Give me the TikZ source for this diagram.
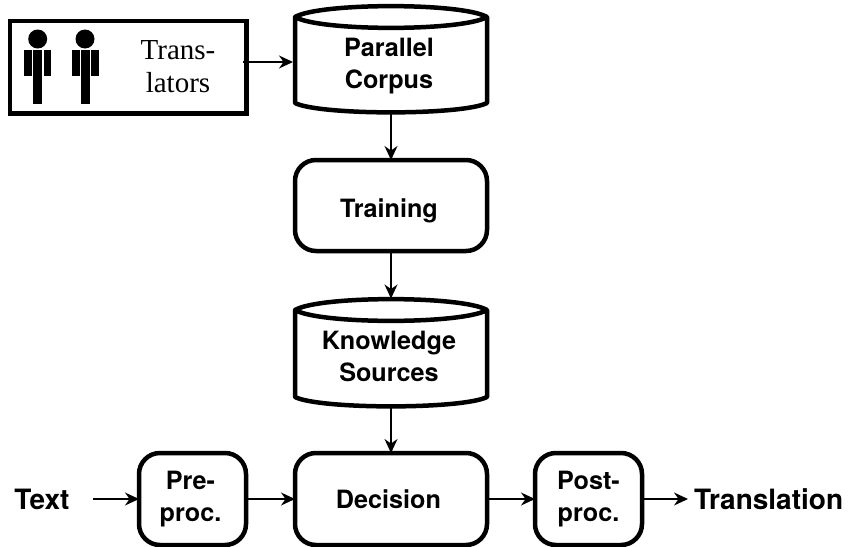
\documentclass[tikz,border=0pt]{standalone}
\usepackage{fontspec}
\setmainfont{TeX Gyre Heros}
\newfontfamily\serifface{Liberation Serif}
\usetikzlibrary{arrows.meta}
\tikzset{
  x=1pt,y=-1pt,
  every node/.style={inner sep=0pt,outer sep=0pt},
  roundbox/.style={draw,line width=4.5pt,rounded corners=21pt,align=center,font=\fontsize{25.2}{32}\selectfont\bfseries,anchor=north west},
  label/.style={font=\fontsize{25.2}{32}\selectfont\bfseries,align=center},
  biglabel/.style={font=\fontsize{28}{33}\selectfont\bfseries},
  cylline/.style={line width=4.5pt,line join=round},
  conn/.style={line width=1.3pt,-{Stealth[length=14pt,width=13pt]}},
  figure/.style={fill=black,draw=none}
}
\newcommand{\personfig}[1]{%
  \fill[figure] (#1,39) circle (9.5);
  \fill[figure] (#1-13.5,50) rectangle (#1-5.5,76);
  \fill[figure] (#1-4.5,50) rectangle (#1+4.5,104);
  \fill[figure] (#1+6,50) rectangle (#1+13.5,76);
}
\newcommand{\cylfig}[4]{% left, right, top centre y, side bottom y
  \draw[cylline] (#1,#3) .. controls (#1+25,#3-14.5) and (#2-25,#3-14.5) .. (#2,#3)
    .. controls (#2-25,#3+14.5) and (#1+25,#3+14.5) .. (#1,#3) -- (#1,#4)
    .. controls (#1+25,#4+12.5) and (#2-25,#4+12.5) .. (#2,#4) -- (#2,#3);
}
\newcommand{\lft}[2]{#1\hspace*{#2}}
\begin{document}
\begin{tikzpicture}
\useasboundingbox (0,0) rectangle (848,546);
% translators
\node[draw,line width=4.5pt,minimum width=236.5pt,minimum height=92.5pt,anchor=north west] (trans) at (10,21) {};
\personfig{37.7}
\personfig{85}
\node[font=\serifface\fontsize{29}{33}\selectfont,align=center] (translbl) at (178,67) {Trans-\\lators};
% cylinders
\cylfig{295}{487}{17}{103}
\node[label] (corpus) at (389,66) {Parallel\\Corpus};
\node[minimum width=192pt,minimum height=108pt] (corpusfull) at (391,60) {};
\cylfig{295}{487}{310}{397}
\node[label] (know) at (389,356) {Knowledge\\Sources};
\node[minimum width=192pt,minimum height=109pt] (knowfull) at (391,353) {};
% rounded boxes
\node[roundbox,text height=23pt,text depth=0pt,minimum width=192pt,minimum height=91pt] (training) at (295,160) {\lft{Training}{4pt}};
\node[roundbox,minimum width=192pt,minimum height=92pt] (decision) at (295,453) {\lft{Decision}{5pt}};
\node[roundbox,minimum width=107pt,minimum height=92pt] (pre) at (139,453) {\lft{Pre-}{4pt}\\\lft{proc.}{4pt}};
\node[roundbox,minimum width=107pt,minimum height=92pt] (post) at (535,453) {Post-\\proc.};
% free labels
\node[biglabel] (text) at (42,499) {Text};
\node[biglabel,anchor=west] (translation) at (694,499) {Translation};
% connectors
\coordinate (tstart) at (243,62);
\coordinate (cleft) at (293,62);
\coordinate (tin) at (93,499);
\coordinate (tout) at (688,499);
\draw[conn] (tstart) -- (cleft);
\draw[conn] (corpusfull.south -| training.north) -- (training.north);
\draw[conn] (training.south) -- (knowfull.north);
\draw[conn] (knowfull.south) -- (decision.north);
\draw[conn] (tin) -- (pre.west);
\draw[conn] (pre.east) -- (decision.west);
\draw[conn] (decision.east) -- (post.west);
\draw[conn] (post.east) -- (tout);
\end{tikzpicture}
\end{document}
